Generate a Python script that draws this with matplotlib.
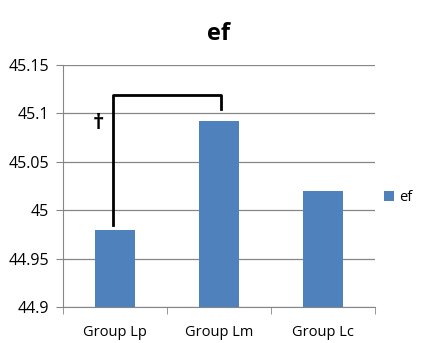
import matplotlib.pyplot as plt

groups = ["Group Lp", "Group Lm", "Group Lc"]
ef = [44.98, 45.092, 45.02]
yticks = [44.9, 44.95, 45.0, 45.05, 45.1, 45.15]
ytick_labels = ["44.9", "44.95", "45", "45.05", "45.1", "45.15"]

plt.rcParams['font.family'] = ['Open Sans', 'DejaVu Sans']

fig = plt.figure(figsize=(4.29, 3.43), dpi=100)
ax = fig.add_axes([63/429, 36/343, 312/429, 242/343])

x = list(range(len(groups)))
ax.bar(x, ef, width=0.39, color="#4f81bd", label="ef", zorder=3)

ax.set_xlim(-0.5, 2.5)
ax.set_ylim(44.9, 45.15)
ax.set_yticks(yticks)
ax.set_yticklabels(ytick_labels, fontsize=11.5)
ax.set_xticks(x)
ax.set_xticklabels(groups, fontsize=10.5)
ax.set_xticks([-0.5, 0.5, 1.5, 2.5], minor=True)
ax.tick_params(axis='x', which='major', length=0, pad=13)
ax.tick_params(axis='x', which='minor', length=5, color="#868686")
ax.tick_params(axis='y', length=5, color="#868686", pad=5)
ax.grid(axis='y', color="#868686", linewidth=0.9, zorder=0)
for s in ["top", "right"]:
    ax.spines[s].set_visible(False)
for s in ["left", "bottom"]:
    ax.spines[s].set_color("#868686")

# significance bracket
ax.plot([-0.02, -0.02, 1.02, 1.02], [44.985, 45.119, 45.119, 45.105],
        color="black", linewidth=2, clip_on=False, zorder=4)
ax.text(-0.16, 45.09, "†", fontsize=16, fontweight="bold", ha="center", va="center")

fig.suptitle("ef", x=0.51, y=0.935, fontsize=17, fontweight="bold")
fig.legend(loc="center left", bbox_to_anchor=(0.865, 0.423), frameon=False,
           fontsize=10.5, handlelength=0.7, handleheight=0.7, handletextpad=0.3)

fig.savefig("out.png", dpi=100)
